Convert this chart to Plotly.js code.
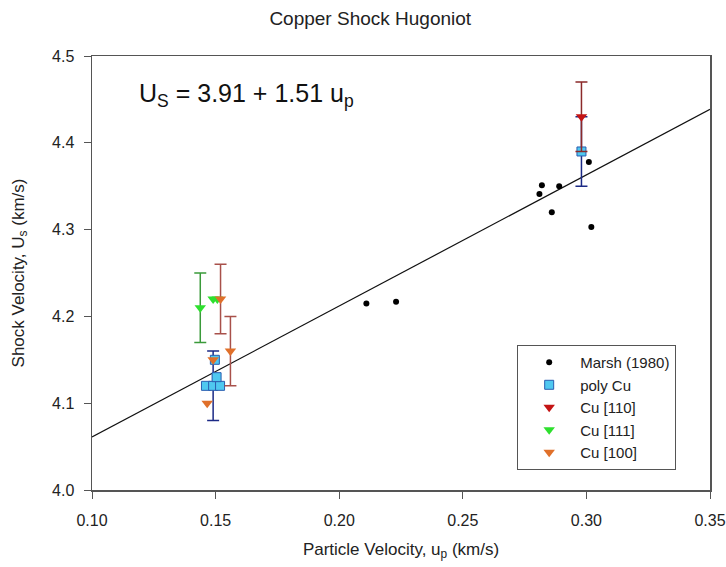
<!DOCTYPE html>
<html>
<head>
<meta charset="utf-8">
<script src="https://cdn.plot.ly/plotly-3.0.1.min.js"></script>
<style>html,body{margin:0;padding:0;background:#fff;}#chart{width:726px;height:567px;}</style>
</head>
<body>
<div id="chart"></div>
<script>
// Marsh (1980)
const marshX = [0.211, 0.223, 0.281, 0.282, 0.286, 0.289, 0.301, 0.302];
const marshY = [4.215, 4.217, 4.341, 4.351, 4.320, 4.350, 4.378, 4.303];
// poly Cu
const polyX = [0.1461, 0.149, 0.1518, 0.1504, 0.1497, 0.298];
const polyY = [4.12, 4.12, 4.12, 4.13, 4.15, 4.39];
const polyErr = [NaN, 0.04, NaN, NaN, NaN, 0.04];
// Cu [110]
const cu110X = [0.298];
const cu110Y = [4.43];
const cu110Err = [0.04];
// Cu [111]
const cu111X = [0.1438, 0.149, 0.1507];
const cu111Y = [4.21, 4.22, 4.22];
const cu111Err = [0.04, NaN, NaN];
// Cu [100]
const cu100X = [0.152, 0.156, 0.149, 0.1466];
const cu100Y = [4.22, 4.16, 4.15, 4.10];
const cu100Err = [0.04, 0.04, NaN, NaN];
// Fit line Us = 3.91 + 1.51 up
const fitX = [0.10, 0.35];
const fitY = [4.061, 4.4385];
// ticks
const xTicks = [0.10, 0.15, 0.20, 0.25, 0.30, 0.35];
const yTicks = [4.0, 4.1, 4.2, 4.3, 4.4, 4.5];

const FONT = '"Liberation Sans", Arial, sans-serif';

const traces = [
  {x: fitX, y: fitY, mode: 'lines', line: {color: '#111', width: 1.2}, showlegend: false, hoverinfo: 'skip'},
  {x: marshX, y: marshY, mode: 'markers', name: 'Marsh (1980)',
   marker: {symbol: 'circle', size: 6, color: '#000'}},
  {x: polyX, y: polyY, mode: 'markers', name: 'poly Cu',
   marker: {symbol: 'square', size: 9, color: '#4fc8f0', line: {color: '#2a5db0', width: 1}},
   error_y: {type: 'data', array: polyErr, visible: true, color: '#1c2a86', thickness: 1.5, width: 6}},
  {x: cu110X, y: cu110Y, mode: 'markers', name: 'Cu [110]',
   marker: {symbol: 'triangle-down', size: 10, color: '#c41414'},
   error_y: {type: 'data', array: cu110Err, visible: true, color: '#8b2a2a', thickness: 1.5, width: 6}},
  {x: cu111X, y: cu111Y, mode: 'markers', name: 'Cu [111]',
   marker: {symbol: 'triangle-down', size: 10, color: '#2ee02e'},
   error_y: {type: 'data', array: cu111Err, visible: true, color: '#3a9a3a', thickness: 1.5, width: 6}},
  {x: cu100X, y: cu100Y, mode: 'markers', name: 'Cu [100]',
   marker: {symbol: 'triangle-down', size: 10, color: '#e0702a'},
   error_y: {type: 'data', array: cu100Err, visible: true, color: '#a8504a', thickness: 1.5, width: 6}}
];

const layout = {
  width: 726, height: 567,
  paper_bgcolor: '#fff', plot_bgcolor: '#fff',
  margin: {l: 92, r: 16, t: 56, b: 77},
  font: {family: FONT, color: '#222', size: 16},
  title: {text: 'Copper Shock Hugoniot', font: {family: FONT, size: 19, color: '#222'},
          x: 0.51, xref: 'container', xanchor: 'center', y: 0.968, yref: 'container', yanchor: 'middle'},
  xaxis: {range: [0.10, 0.35], tickvals: xTicks, tickformat: '.2f', ticks: 'outside', ticklen: 7,
          tickcolor: '#555', showline: true, linecolor: '#555', linewidth: 1.5, mirror: true,
          showgrid: false, zeroline: false, tickfont: {size: 16}, ticklabelstandoff: 8,
          title: {text: 'Particle Velocity, u<sub>p</sub> (km/s)', font: {size: 17}, standoff: 15}},
  yaxis: {range: [4.0, 4.5], tickvals: yTicks, tickformat: '.1f', ticks: 'outside', ticklen: 7,
          tickcolor: '#555', showline: true, linecolor: '#555', linewidth: 1.5, mirror: true,
          showgrid: false, zeroline: false, tickfont: {size: 16}, ticklabelstandoff: 6,
          title: {text: 'Shock Velocity, U<sub>s</sub> (km/s)', font: {size: 17}, standoff: 23}},
  legend: {x: 0.688, y: 0.334, xanchor: 'left', yanchor: 'top', bgcolor: '#fff',
           bordercolor: '#555', borderwidth: 1, font: {size: 15}, tracegroupgap: 0, itemwidth: 52},
  annotations: [{text: 'U<sub>S</sub> = 3.91 + 1.51 u<sub>p</sub>', xref: 'paper', yref: 'paper',
                 x: 0.073, y: 0.91, xanchor: 'left', yanchor: 'middle', showarrow: false,
                 font: {size: 25, color: '#111'}}],
  showlegend: true
};

Plotly.newPlot('chart', traces, layout, {displayModeBar: false, staticPlot: true});
</script>
</body>
</html>
